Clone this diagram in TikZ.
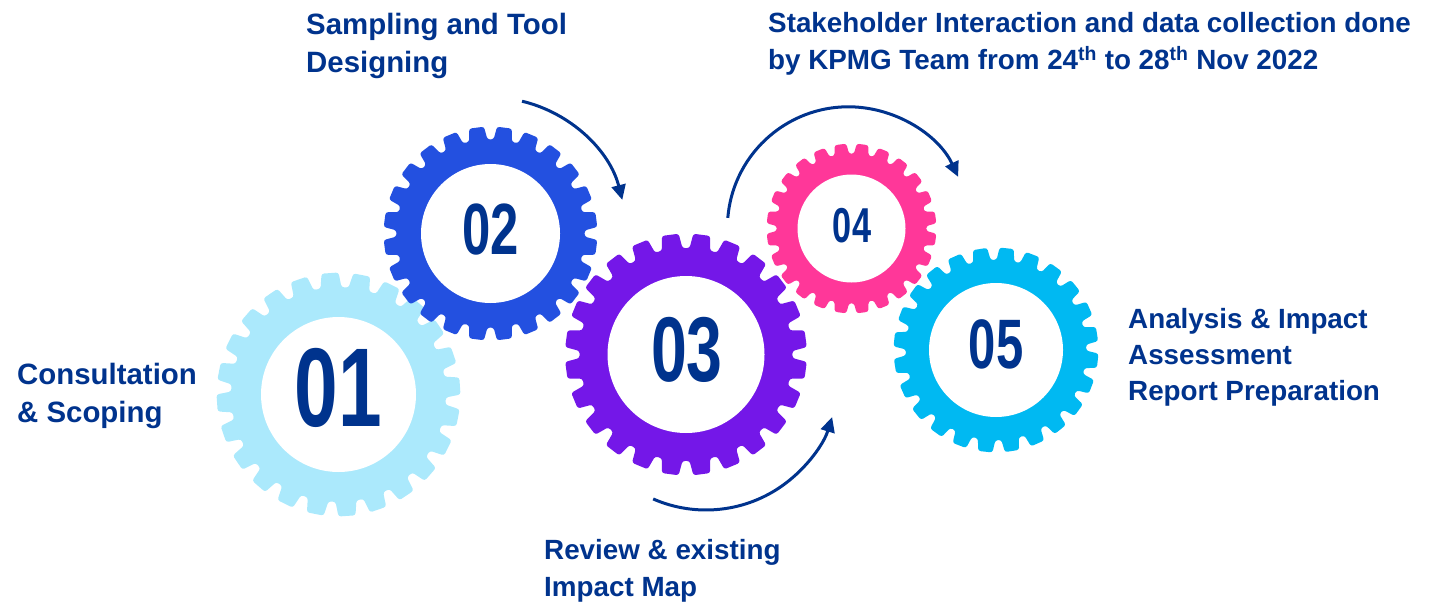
\documentclass[tikz,border=0pt]{standalone}
\usepackage{fontspec}
\setmainfont{Liberation Sans}
\usetikzlibrary{arrows.meta}
\definecolor{kpmgnavy}{HTML}{00338D}
\definecolor{gearsky}{HTML}{ABE9FC}
\definecolor{gearblue}{HTML}{2350E0}
\definecolor{gearviolet}{HTML}{7417E8}
\definecolor{gearpink}{HTML}{FF3799}
\definecolor{gearcyan}{HTML}{00B9F2}
% centre, outer radius, colour, turn, hole radius
\newcommand{\gearwheel}[5]{%
  \fill[#3, rounded corners=2.5pt, shift={(#1)}] ({#4-7.5}:{0.88*#2})
    \foreach \t in {0,...,23}{ -- ({#4+15*\t-5.6}:{0.88*#2}) -- ({#4+15*\t-4}:{#2})
      -- ({#4+15*\t+4}:{#2}) -- ({#4+15*\t+5.6}:{0.88*#2}) } -- cycle;
  \fill[white] (#1) circle (#5);
}
\tikzset{
  steplabel/.style={text=kpmgnavy, font=\bfseries\fontsize{27.8}{37.5}\selectfont, align=left, anchor=north west, inner sep=0pt},
  biglabel/.style={steplabel, font=\bfseries\fontsize{29.4}{38.5}\selectfont},
  stepnum/.style={text=kpmgnavy, inner sep=0pt, xscale=0.7},
  flow/.style={kpmgnavy, line width=3pt, -{Triangle[length=15pt,width=14pt]}}
}
\begin{document}
\begin{tikzpicture}[x=1pt, y=-1pt]
\useasboundingbox (0,0) rectangle (1445,602);
\coordinate (g1) at (338.5,394.5);
\coordinate (g2) at (490.5,233.5);
\coordinate (g3) at (686,354.5);
\coordinate (g4) at (851.5,228.5);
\coordinate (g5) at (996,350);
\coordinate (c3) at (706,378);
\coordinate (c4) at (848.4,227.8);
\gearwheel{g1}{122}{gearsky}{11}{77.5}
\gearwheel{g2}{107}{gearblue}{7.5}{69.5}
\gearwheel{g3}{121}{gearviolet}{7.5}{78.5}
\gearwheel{g4}{85}{gearpink}{7.5}{54}
\gearwheel{g5}{102.5}{gearcyan}{6}{67}
\node[stepnum, font=\bfseries\fontsize{112}{112}\selectfont] (n1) at (338.5,388) {01};
\node[stepnum, font=\bfseries\fontsize{72.6}{72.6}\selectfont] (n2) at (491,230) {02};
\node[stepnum, font=\bfseries\fontsize{92}{92}\selectfont] (n3) at (687,350) {03};
\node[stepnum, font=\bfseries\fontsize{49}{49}\selectfont] (n4) at (852,225.5) {04};
\node[stepnum, font=\bfseries\fontsize{70}{70}\selectfont] (n5) at (996,344) {05};
\node[biglabel] (l1) at (17,362.5) {Consultation\\\& Scoping};
\node[biglabel] (l2) at (306,12.5) {Sampling and Tool\\Designing};
\node[steplabel] (l3) at (544,539) {Review \& existing\\Impact Map};
\node[steplabel] (l4) at (768,12) {Stakeholder Interaction and data collection done\\by KPMG Team from 24\textsuperscript{th} to 28\textsuperscript{th} Nov 2022};
\node[steplabel, font=\bfseries\fontsize{27.8}{36}\selectfont] (l5) at (1128,308) {Analysis \& Impact\\Assessment\\Report Preparation};
\draw[flow] ([shift={(-76.6:136)}]g2) arc (-76.6:-14.3:136);
\draw[flow] ([shift={(-175.3:121)}]c4) arc (-175.3:-24.9:121);
\draw[flow] ([shift={(113.6:132)}]c3) arc (113.6:17.2:132);
\end{tikzpicture}
\end{document}
